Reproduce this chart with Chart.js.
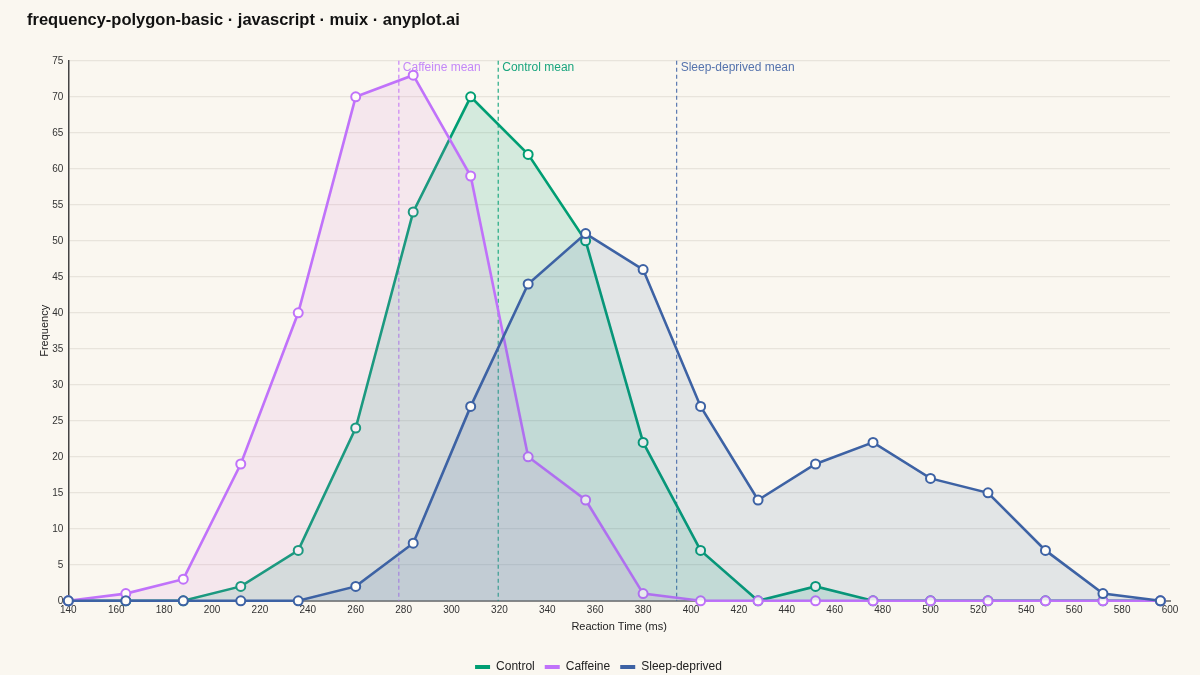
<!DOCTYPE html>
<html>
<head>
<meta charset="utf-8">
<script src="https://cdn.jsdelivr.net/npm/chart.js@4"></script>
<style>
  html, body { margin: 0; padding: 0; background: #faf7f0; }
  #wrap { width: 1200px; height: 675px; }
</style>
</head>
<body>
<div id="wrap"><canvas id="polyChart" width="1200" height="675"></canvas></div>
<script>
// bin midpoints (ms) and counts per group
const binCenters = [140, 164, 188, 212, 236, 260, 284, 308, 332, 356, 380, 404, 428, 452, 476, 500, 524, 548, 572, 596];
const controlCounts = [0, 0, 0, 2, 7, 24, 54, 70, 62, 50, 22, 7, 0, 2, 0, 0, 0, 0, 0, 0];
const caffeineCounts = [0, 1, 3, 19, 40, 70, 73, 59, 20, 14, 1, 0, 0, 0, 0, 0, 0, 0, 0, 0];
const sleepCounts = [0, 0, 0, 0, 0, 2, 8, 27, 44, 51, 46, 27, 14, 19, 22, 17, 15, 7, 1, 0];
const groupNames = ["Control", "Caffeine", "Sleep-deprived"];
const groupMeans = [319.5, 278, 394];
const xTicks = { min: 140, max: 600, step: 20 };
const yTicks = { min: 0, max: 75, step: 5 };

const lineColors = ["#009E73", "#C072FA", "#3D62A4"];
const fillColors = ["rgba(0,158,115,0.15)", "rgba(215,120,215,0.13)", "rgba(61,98,164,0.12)"];
const labelColors = ["#1aa57e", "#c488f8", "#5573ad"];

const seriesCounts = [controlCounts, caffeineCounts, sleepCounts];
const FONT = "'Liberation Sans', Arial, sans-serif";

const meanLines = {
  id: "meanLines",
  beforeDatasetsDraw(chart) {
    const { ctx, chartArea, scales } = chart;
    ctx.save();
    groupMeans.forEach((m, i) => {
      const x = scales.x.getPixelForValue(m);
      ctx.strokeStyle = lineColors[i];
      ctx.globalAlpha = 0.85;
      ctx.lineWidth = 1.2;
      ctx.setLineDash([4, 3]);
      ctx.beginPath();
      ctx.moveTo(x, chartArea.top);
      ctx.lineTo(x, chartArea.bottom);
      ctx.stroke();
      ctx.globalAlpha = 1;
      ctx.setLineDash([]);
      ctx.fillStyle = labelColors[i];
      ctx.font = "12px " + FONT;
      ctx.textAlign = "left";
      ctx.textBaseline = "middle";
      ctx.fillText(groupNames[i] + " mean", x + 4, chartArea.top + 7);
    });
    ctx.restore();
  }
};

const ctx = document.getElementById("polyChart").getContext("2d");

const chart = new Chart(ctx, {
  type: "line",
  data: {
    datasets: groupNames.map((name, i) => ({
      label: name,
      data: binCenters.map((x, j) => ({ x: x, y: seriesCounts[i][j] })),
      borderColor: lineColors[i],
      backgroundColor: fillColors[i],
      fill: "origin",
      borderWidth: 2.6,
      pointRadius: 4.5,
      pointBorderWidth: 2,
      pointBackgroundColor: "#fffdf8",
      pointBorderColor: lineColors[i],
      tension: 0,
      clip: false,
      order: 3 - i,
    })),
  },
  options: {
    responsive: false,
    animation: false,
    layout: { padding: { left: 27, right: 30, top: 7, bottom: -8 } },
    scales: {
      x: {
        type: "linear",
        min: xTicks.min,
        max: xTicks.max,
        ticks: {
          stepSize: xTicks.step,
          color: "#333",
          font: { size: 10, family: FONT },
          padding: 3,
          maxRotation: 0,
        },
        grid: { display: false, drawTicks: false },
        border: { color: "#888", width: 2 },
        title: {
          display: true,
          text: "Reaction Time (ms)",
          color: "#222",
          font: { size: 11, family: FONT },
          padding: { top: 2, bottom: 17 },
        },
      },
      y: {
        min: yTicks.min,
        max: yTicks.max,
        ticks: {
          stepSize: yTicks.step,
          color: "#333",
          font: { size: 10, family: FONT },
          padding: 5,
        },
        grid: { color: "#e8e4dc", lineWidth: 1.2, drawTicks: false },
        border: { color: "#444", width: 1.5 },
        title: {
          display: true,
          text: "Frequency",
          color: "#222",
          font: { size: 11, family: FONT },
          padding: { top: 11, bottom: -4 },
        },
      },
    },
    plugins: {
      title: {
        display: true,
        text: "frequency-polygon-basic · javascript · muix · anyplot.ai",
        align: "start",
        color: "#111",
        font: { size: 16.5, weight: "bold", family: FONT },
        padding: { top: 4, bottom: 30 },
      },
      legend: {
        position: "bottom",
        labels: {
          boxWidth: 15,
          boxHeight: 4,
          color: "#222",
          padding: 10,
          font: { size: 12, family: FONT },
          sort: (a, b) => a.datasetIndex - b.datasetIndex,
          generateLabels: (c) =>
            Chart.defaults.plugins.legend.labels.generateLabels(c).map((item) => {
              item.fillStyle = lineColors[item.datasetIndex];
              item.strokeStyle = lineColors[item.datasetIndex];
              item.lineWidth = 0;
              return item;
            }),
        },
      },
      tooltip: { enabled: false },
    },
  },
  plugins: [meanLines],
});
</script>
</body>
</html>
